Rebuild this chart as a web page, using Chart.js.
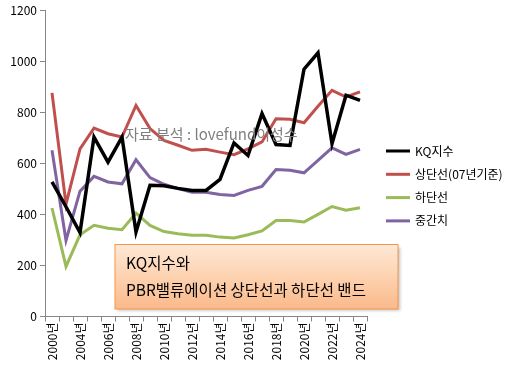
<!DOCTYPE html>
<html>
<head>
<meta charset="utf-8">
<script src="https://cdn.jsdelivr.net/npm/chart.js@4"></script>
<style>
  body{margin:0;background:#fff;}
  #wrap{width:523px;height:369px;}
</style>
</head>
<body>
<div id="wrap"><canvas id="kqchart" width="523" height="369"></canvas></div>
<script>
//Data
const years=['2000년','2002년','2004년','2005년','2006년','2007년','2008년','2009년','2010년','2011년','2012년','2013년','2014년','2015년','2016년','2017년','2018년','2019년','2020년','2021년','2022년','2023년','2024년'];
const kq=[527,430,329,703,605,703,331,514,512,502,494,494,537,680,631,795,674,670,969,1033,677,867,847];
const upper=[876,440,657,738,716,703,827,736,690,671,651,655,644,634,657,684,775,773,759,824,886,860,880];
const lower=[425,196,320,357,346,340,405,357,333,324,318,318,311,308,320,335,376,376,370,400,431,416,426];
const mid=[651,298,491,549,527,520,614,544,518,501,487,487,478,474,494,510,576,573,563,612,661,635,655];
const seriesNames=['KQ지수','상단선(07년기준)','하단선','중간치'];
const yTicks=[0,200,400,600,800,1000,1200];

const FONT="'Noto Sans CJK KR', 'Noto Sans', sans-serif";

//Watermark, note box and the legend on the right
const notePlugin={
  id:'note',
  afterDatasetsDraw(chart){
    const ctx=chart.ctx;
    ctx.save();
    ctx.font='15px '+FONT;
    ctx.fillStyle='#7f7f7f';
    ctx.textBaseline='middle';
    ctx.fillText('자료 분석 : lovefund이성수',125,134);
    ctx.restore();
  },
  afterDraw(chart){
    const ctx=chart.ctx;
    //legend: one short line + name for each dataset
    ctx.save();
    ctx.font='12px '+FONT;
    ctx.textBaseline='middle';
    chart.data.datasets.forEach(function(ds,i){
      const cy=151+i*23.3;
      ctx.fillStyle=ds.borderColor;
      ctx.fillRect(386,cy-1.5,24,3);
      ctx.fillStyle='#000';
      ctx.fillText(ds.label,415,cy);
    });
    ctx.restore();

    const x=115,y=244.5,w=283,h=64.5;
    ctx.save();
    ctx.shadowColor='rgba(0,0,0,0.25)';
    ctx.shadowOffsetX=2;
    ctx.shadowOffsetY=2;
    ctx.shadowBlur=3;
    let g=ctx.createLinearGradient(0,y,0,y+h);
    g.addColorStop(0,'#fee8d6');
    g.addColorStop(0.5,'#fdd2b0');
    g.addColorStop(1,'#fab98a');
    ctx.fillStyle=g;
    ctx.fillRect(x,y,w,h);
    ctx.shadowColor='transparent';
    ctx.strokeStyle='#f79646';
    ctx.lineWidth=1;
    ctx.strokeRect(x,y,w,h);
    ctx.fillStyle='#000';
    ctx.font='15.5px '+FONT;
    ctx.textBaseline='middle';
    ctx.fillText('KQ지수와',126,263.5);
    ctx.fillText('PBR밸류에이션 상단선과 하단선 밴드',126,290.5);
    ctx.restore();
  }
};

const data={
  labels:years,
  datasets:[
    {label:seriesNames[0],data:kq,borderColor:'#000000',backgroundColor:'#000000',borderWidth:3.5},
    {label:seriesNames[1],data:upper,borderColor:'#c0504d',backgroundColor:'#c0504d',borderWidth:3},
    {label:seriesNames[2],data:lower,borderColor:'#9bbb59',backgroundColor:'#9bbb59',borderWidth:3},
    {label:seriesNames[3],data:mid,borderColor:'#8064a2',backgroundColor:'#8064a2',borderWidth:3}
  ]
};

const config={
  type:'line',
  data:data,
  options:{
    responsive:false,
    animation:false,
    elements:{point:{radius:0},line:{tension:0,borderJoinStyle:'miter',borderCapStyle:'butt'}},
    layout:{padding:{left:0,right:156,top:10,bottom:0}},
    plugins:{
      tooltip:{enabled:false},
      legend:{display:false}
    },
    scales:{
      x:{
        type:'category',
        offset:true,
        grid:{offset:true,drawOnChartArea:false,tickLength:5,color:'#868686'},
        border:{color:'#868686'},
        ticks:{
          autoSkip:false,
          maxRotation:90,
          minRotation:90,
          padding:1,
          color:'#000',
          font:{family:FONT,size:12},
          callback:function(v,i){return i%2===0?years[i]:'';}
        },
        afterFit:function(scale){scale.height=52.5;}
      },
      y:{
        min:0,
        max:1200,
        grid:{drawOnChartArea:false,tickLength:5,color:'#868686'},
        border:{color:'#868686'},
        afterBuildTicks:function(scale){scale.ticks=yTicks.map(function(v){return {value:v};});},
        ticks:{color:'#000',padding:3,font:{family:FONT,size:12},callback:function(v){return String(v);}},
        afterFit:function(scale){scale.width=45;}
      }
    }
  },
  plugins:[notePlugin]
};

const myChart=new Chart(document.getElementById('kqchart'),config);
</script>
</body>
</html>
